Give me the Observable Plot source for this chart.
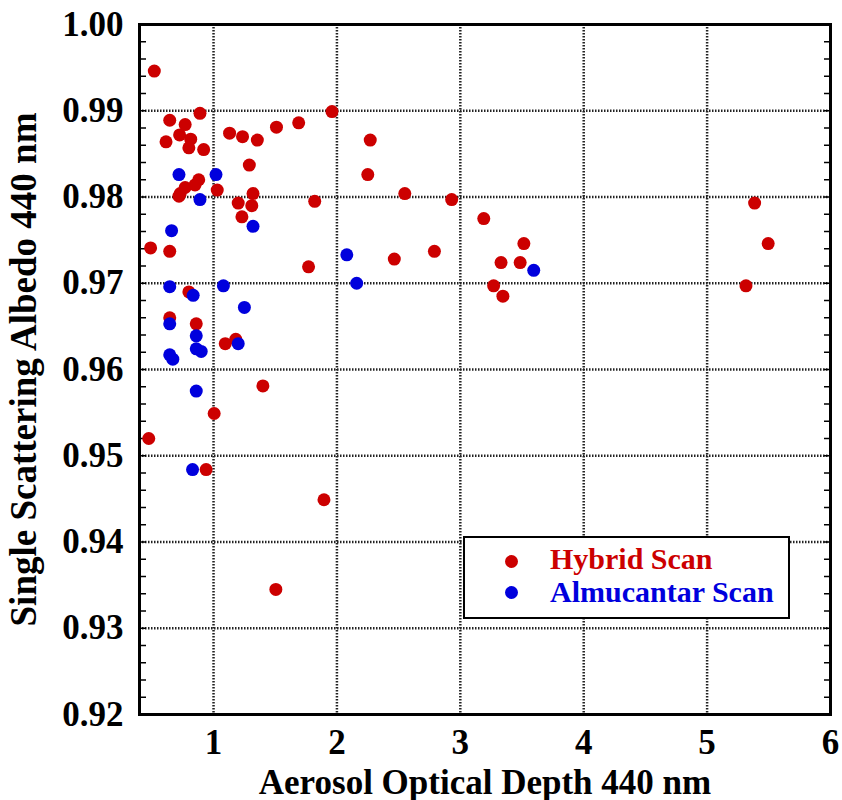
<!DOCTYPE html>
<html>
<head>
<meta charset="utf-8">
<script src="https://cdn.jsdelivr.net/npm/d3@7"></script>
<script src="https://cdn.jsdelivr.net/npm/@observablehq/plot@0.6"></script>
<style>
  html, body { margin: 0; padding: 0; background: #fff; }
  #wrap { position: relative; width: 842px; height: 800px; }
  #legend {
    position: absolute; left: 463px; top: 536px; width: 327px; height: 83px;
    border: 2px solid #000; background: #fff; box-sizing: border-box;
    font-family: "Liberation Serif", "Times New Roman", serif; font-weight: bold; font-size: 30px;
  }
  .dot { position: absolute; width: 13px; height: 13px; border-radius: 50%; }
  .lab { position: absolute; white-space: nowrap; line-height: 1; }
</style>
</head>
<body>
<div id="wrap"></div>
<script>
const hybridX = [0.52,0.89,0.645,0.77,0.725,0.815,0.615,0.80,0.92,1.13,1.235,1.355,1.51,1.69,1.96,2.27,2.25,2.55,1.29,1.03,0.88,0.85,0.77,0.73,0.72,1.32,1.31,1.20,1.23,1.82,0.49,0.645,1.77,2.465,2.93,3.19,2.79,3.515,3.33,3.485,3.27,3.345,5.385,5.495,5.315,0.80,0.645,0.86,1.095,1.18,1.40,1.005,0.475,0.94,1.895,1.505];
const hybridY = [0.9946,0.9897,0.9889,0.9884,0.9872,0.9867,0.9864,0.9857,0.9855,0.9874,0.9870,0.9866,0.9881,0.9886,0.9899,0.9866,0.9826,0.9804,0.9837,0.9808,0.9820,0.9814,0.9811,0.9804,0.9801,0.9804,0.9790,0.9793,0.9777,0.9795,0.9741,0.9737,0.9719,0.9728,0.9797,0.9775,0.9737,0.9746,0.9724,0.9724,0.9697,0.9685,0.9793,0.9746,0.9697,0.9690,0.9660,0.9653,0.9630,0.9635,0.9581,0.9549,0.9520,0.9484,0.9449,0.9345];
const almX = [0.72,1.02,0.89,0.66,1.32,2.08,2.16,0.645,1.08,0.835,1.25,0.645,0.86,1.20,0.86,0.90,0.645,0.67,0.86,0.83,3.595];
const almY = [0.9826,0.9826,0.9797,0.9761,0.9766,0.9733,0.9700,0.9696,0.9697,0.9686,0.9672,0.9653,0.9639,0.9630,0.9624,0.9621,0.9617,0.9612,0.9575,0.9484,0.9715];

const xTicks = [1,2,3,4,5,6];
const yTicks = [0.92,0.93,0.94,0.95,0.96,0.97,0.98,0.99,1.00];
const xGrid = [1,2,3,4,5];
const yGrid = [0.93,0.94,0.95,0.96,0.97,0.98,0.99];
const yMinor = d3.range(0, 41).map(i => 0.92 + i * 0.002);

const seriesNames = ["Hybrid Scan", "Almucantar Scan"];
const seriesColors = ["#cc0000", "#0000dd"];

const hybrid = hybridX.map((x, i) => ({x, y: hybridY[i]}));
const alm = almX.map((x, i) => ({x, y: almY[i]}));

const fontFamily = '"Liberation Serif", "Times New Roman", serif';

const plot = Plot.plot({
  width: 842,
  height: 800,
  marginLeft: 139,
  marginRight: 12,
  marginTop: 24,
  marginBottom: 86,
  style: {fontFamily, fontWeight: "bold", fontSize: "35px", color: "#000", background: "#fff"},
  x: {domain: [0.4, 6]},
  y: {domain: [0.92, 1.0]},
  marks: [
    Plot.gridX(xGrid, {stroke: "#222", strokeOpacity: 1, strokeWidth: 2.5, strokeDasharray: "1.5,1.5"}),
    Plot.gridY(yGrid, {stroke: "#222", strokeOpacity: 1, strokeWidth: 2.5, strokeDasharray: "1.5,1.5"}),
    Plot.axisY(yMinor, {anchor: "left", tickSize: -7, tickFormat: () => "", label: null, strokeWidth: 1.5}),
    Plot.axisY(yMinor, {anchor: "right", tickSize: -7, tickFormat: () => "", label: null, strokeWidth: 1.5}),
    Plot.axisY(yTicks, {anchor: "left", tickSize: 0, tickPadding: 16, tickFormat: d3.format(".2f"), fontSize: 35, label: null}),
    Plot.axisY(yTicks, {anchor: "left", tickSize: 0, tickFormat: () => "",
      label: "Single Scattering Albedo 440 nm", labelAnchor: "center", labelOffset: 130, labelArrow: "none", fontSize: 37}),
    Plot.axisX(xTicks, {anchor: "bottom", tickSize: 0, tickPadding: 15, tickFormat: d3.format("d"), fontSize: 35,
      label: "Aerosol Optical Depth 440 nm", labelAnchor: "center", labelOffset: 79, labelArrow: "none"}),
    Plot.frame({stroke: "#000", strokeWidth: 3}),
    Plot.dot(hybrid, {x: "x", y: "y", r: 6.5, fill: seriesColors[0], stroke: null}),
    Plot.dot(alm, {x: "x", y: "y", r: 6.5, fill: seriesColors[1], stroke: null})
  ]
});

const wrap = document.getElementById("wrap");
wrap.appendChild(plot);

const legend = document.createElement("div");
legend.id = "legend";
seriesNames.forEach((name, i) => {
  const dot = document.createElement("div");
  dot.className = "dot";
  dot.style.background = seriesColors[i];
  dot.style.left = "40px";
  dot.style.top = (17 + i * 31) + "px";
  const lab = document.createElement("div");
  lab.className = "lab";
  lab.style.color = seriesColors[i];
  lab.style.left = "85px";
  lab.style.top = (6 + i * 33) + "px";
  lab.textContent = name;
  legend.appendChild(dot);
  legend.appendChild(lab);
});
wrap.appendChild(legend);
</script>
</body>
</html>
